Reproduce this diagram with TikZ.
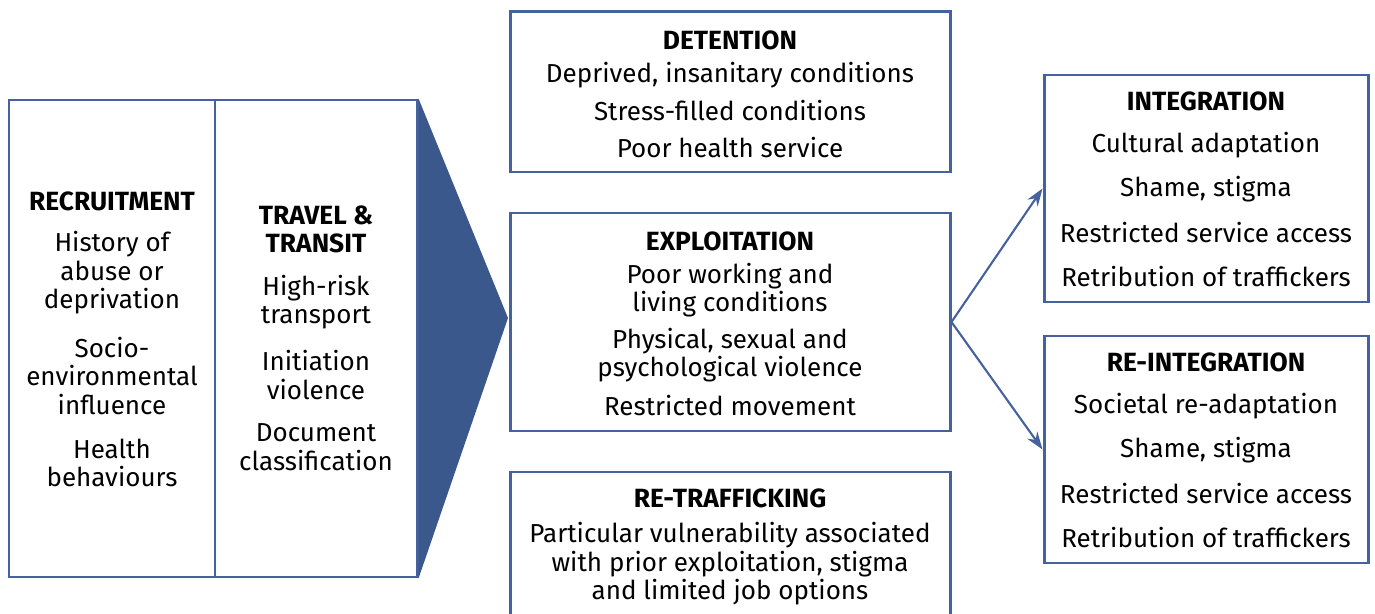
\documentclass[tikz,border=0pt]{standalone}
\usepackage{fontspec}
\setmainfont{Fira Sans}
\usetikzlibrary{arrows.meta,fit}
\definecolor{boxblue}{RGB}{70,98,158}
\definecolor{arrowblue}{RGB}{59,88,141}
\tikzset{
	stage/.style={draw=boxblue, line width=1.7pt, inner sep=0pt},
	head/.style={font=\bfseries\fontsize{15}{16}\selectfont, inner sep=0pt},
	item/.style={align=center, font=\fontsize{14.8}{16.2}\selectfont, inner sep=0pt},
	link/.style={draw=boxblue, line width=1.2pt, -{Stealth[length=10pt,width=7pt]}}
}
\begin{document}
\begin{tikzpicture}[x=0.02cm, y=-0.02cm]
		%%%%% FRAME %%%%%
		\useasboundingbox (0, 0) rectangle (1375, 614);
		
		%%%%% LEFT STAGES %%%%%
		\node[stage, fit={(9, 100) (215, 577)}] (recruit) {};
		\node[stage, fit={(215, 100) (417, 577)}] (transit) {};
		\coordinate (tip) at (508, 318);
		\fill[arrowblue] (transit.north east) -- (tip) -- (transit.south east) -- cycle;
		
		\node[head] (recruithead) at (112, 201) {RECRUITMENT};
		\node[item] (recruit1) at (112, 273) {History of\\abuse or\\deprivation};
		\node[item] (recruit2) at (112, 376) {Socio-\\environmental\\influence};
		\node[item] (recruit3) at (112, 463) {Health\\behaviours};
		
		\node[head, align=center] (transithead) at (316, 229) {TRAVEL \&\\TRANSIT};
		\node[item] (transit1) at (316, 302) {High-risk\\transport};
		\node[item] (transit2) at (316, 375) {Initiation\\violence};
		\node[item] (transit3) at (316, 447) {Document\\classification};
		
		%%%%% MIDDLE STAGES %%%%%
		\node[stage, fit={(510, 12) (950, 172)}] (detention) {};
		\node[head] (detentionhead) at (730, 40) {DETENTION};
		\node[item] (detention1) at (730, 75) {Deprived, insanitary conditions};
		\node[item] (detention2) at (730, 111) {Stress-filled conditions};
		\node[item] (detention3) at (730, 148) {Poor health service};
		
		\node[stage, fit={(510, 213) (950, 431)}] (exploit) {};
		\node[head] (exploithead) at (730, 241) {EXPLOITATION};
		\node[item] (exploit1) at (730, 290) {Poor working and\\living conditions};
		\node[item] (exploit2) at (730, 355) {Physical, sexual and\\psychological violence};
		\node[item] (exploit3) at (730, 406) {Restricted movement};
		
		\node[stage, fit={(510, 472) (950, 640)}] (retraffic) {};
		\node[head] (retraffichead) at (730, 498) {RE-TRAFFICKING};
		\node[item] (retraffic1) at (730, 564) {Particular vulnerability associated\\with prior exploitation, stigma\\and limited job options};
		
		%%%%% RIGHT STAGES %%%%%
		\node[stage, fit={(1044, 75) (1368, 302)}] (integ) {};
		\node[head] (integhead) at (1206, 101) {INTEGRATION};
		\node[item] (integ1) at (1206, 145) {Cultural adaptation};
		\node[item] (integ2) at (1206, 189) {Shame, stigma};
		\node[item] (integ3) at (1206, 233) {Restricted service access};
		\node[item] (integ4) at (1206, 277) {Retribution of traffickers};
		
		\node[stage, fit={(1044, 336) (1368, 563)}] (reinteg) {};
		\node[head] (reinteghead) at (1206, 362) {RE-INTEGRATION};
		\node[item] (reinteg1) at (1206, 406) {Societal re-adaptation};
		\node[item] (reinteg2) at (1206, 450) {Shame, stigma};
		\node[item] (reinteg3) at (1206, 494) {Restricted service access};
		\node[item] (reinteg4) at (1206, 538) {Retribution of traffickers};
		
		%%%%% LINKS %%%%%
		\draw[link] (exploit.east) -- (integ.west);
		\draw[link] (exploit.east) -- (reinteg.west);
	\end{tikzpicture}
\end{document}
